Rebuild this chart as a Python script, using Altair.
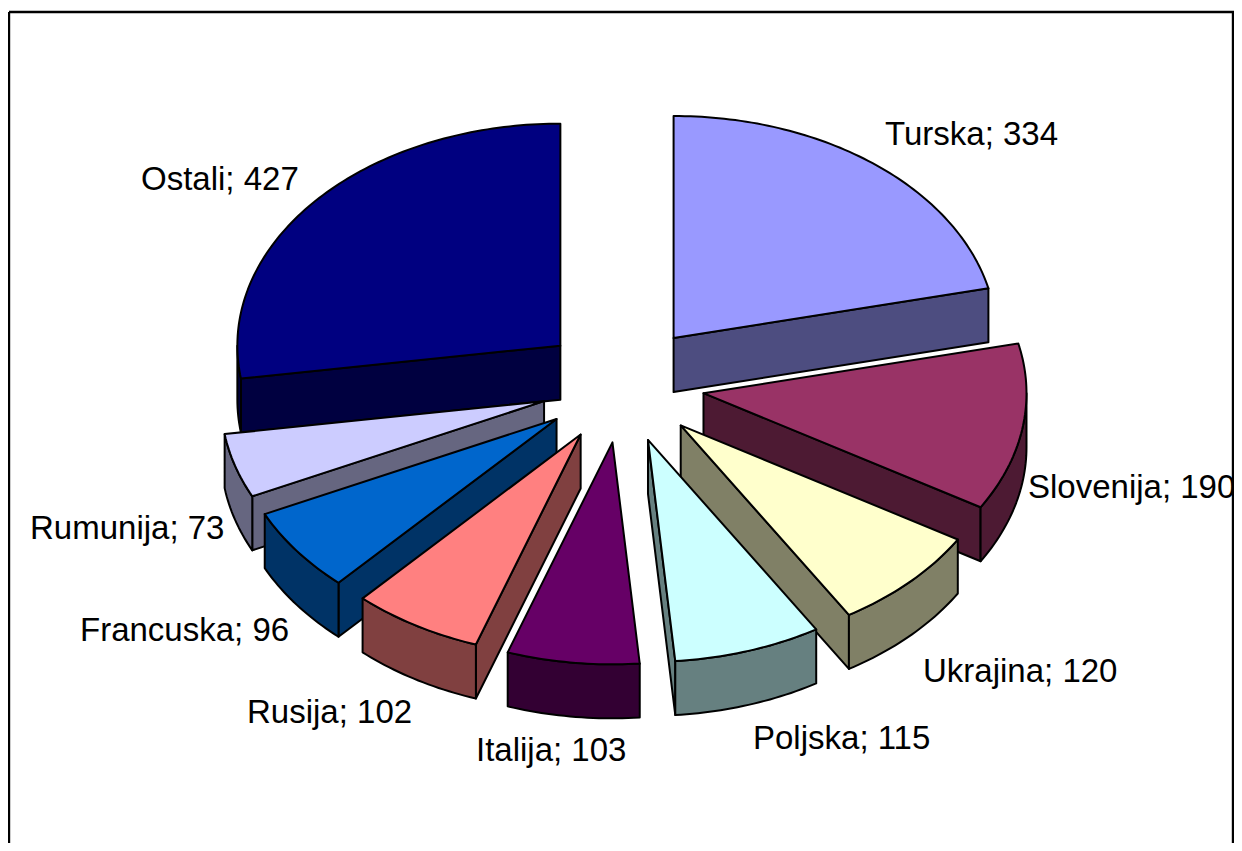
import math
import altair as alt

# ---- data ----
CATEGORIES = ["Turska", "Slovenija", "Ukrajina", "Poljska", "Italija", "Rusija", "Francuska", "Rumunija", "Ostali"]
VALUES = [334, 190, 120, 115, 103, 102, 96, 73, 427]
TOP_COLORS = ["#9999FF", "#993366", "#FFFFCC", "#CCFFFF", "#660066", "#FF8080", "#0066CC", "#CCCCFF", "#000080"]
SIDE_COLORS = ["#4D4D80", "#4D1A33", "#808066", "#668080", "#330033", "#804040", "#003366", "#666680", "#000040"]

# ---- layout (page pixels) ----
OFFSET = 8
CX, CY = 622.5, 384
RX, RY = 323, 222
DEPTH = 54
EXPLODE_X, EXPLODE_Y = 82, 58.8
LABEL_POS = {
    "Turska": (885, 135), "Slovenija": (1028, 488), "Ukrajina": (923, 672),
    "Poljska": (753, 739), "Italija": (476, 751), "Rusija": (247, 713),
    "Francuska": (80, 631), "Rumunija": (30, 529), "Ostali": (141, 180),
}


def feature(coords, fill, closed=True):
    pts = [[x - OFFSET, y - OFFSET] for x, y in coords]
    if closed:
        return {"type": "Feature", "properties": {"fill": fill},
                "geometry": {"type": "Polygon", "coordinates": [pts + [pts[0]]]}}
    return {"type": "Feature", "properties": {"fill": fill},
            "geometry": {"type": "LineString", "coordinates": pts}}


total = sum(VALUES)
wedges = []
start = 0.0
for name, v, top, side in zip(CATEGORIES, VALUES, TOP_COLORS, SIDE_COLORS):
    sweep = v / total * 360
    wedges.append((name, start, start + sweep, top, side))
    start += sweep

features = []
for name, a0, a1, top, side in sorted(wedges, key=lambda w: -math.cos(math.radians((w[1] + w[2]) / 2))):
    mid = math.radians((a0 + a1) / 2)
    ax = CX + EXPLODE_X * math.sin(mid)
    ay = CY - EXPLODE_Y * math.cos(mid)

    def rim(deg, dz=0.0):
        r = math.radians(deg)
        return (ax + RX * math.sin(r), ay - RY * math.cos(r) + dz)

    def arc(d0, d1, dz=0.0):
        n = max(2, int(abs(d1 - d0)) + 1)
        return [rim(d0 + (d1 - d0) * i / (n - 1), dz) for i in range(n)]

    for deg, sign in ((a0, -1), (a1, 1)):
        r = math.radians(deg)
        ex, ey = RX * math.sin(r), -RY * math.cos(r)
        nx, ny = -ey * sign, ex * sign
        if ny > 0:
            p = rim(deg)
            features.append(feature([(ax, ay), p, (p[0], p[1] + DEPTH), (ax, ay + DEPTH)], side))
    lo, hi = max(a0, 90), min(a1, 270)
    if hi > lo:
        features.append(feature(arc(lo, hi) + arc(hi, lo, DEPTH), side))
    features.append(feature([(ax, ay)] + arc(a0, a1), top))

frame = feature([(9, 12), (1233, 12), (1233, 900), (9, 900), (9, 12)], "none", closed=False)

labels = [
    {"text": f"{n}; {v}", "lon": LABEL_POS[n][0] - OFFSET, "lat": LABEL_POS[n][1] - OFFSET}
    for n, v in zip(CATEGORIES, VALUES)
]

proj = alt.Projection(type="identity", scale=1, translate=[0, 0])

frame_layer = alt.Chart(alt.InlineData(values=[frame])).mark_geoshape(
    fill=None, filled=False, stroke="black", strokeWidth=2.4, clip=True
).project(**proj.to_dict())

pie_layer = alt.Chart(alt.InlineData(values=features)).mark_geoshape(
    stroke="black", strokeWidth=2, strokeJoin="round"
).encode(fill=alt.Fill("properties.fill:N", scale=None)).project(**proj.to_dict())

text_layer = alt.Chart(alt.InlineData(values=labels)).mark_text(
    font="Liberation Sans", fontSize=33, align="left", baseline="middle", color="black", clip=False
).encode(longitude="lon:Q", latitude="lat:Q", text="text:N").project(**proj.to_dict())

chart = alt.layer(frame_layer, pie_layer, text_layer).properties(
    width=1226, height=835, padding=0, autosize=alt.AutoSizeParams(type="none")
).configure_view(stroke=None)

chart.save("out.html", embed_options={"renderer": "svg", "actions": False})
